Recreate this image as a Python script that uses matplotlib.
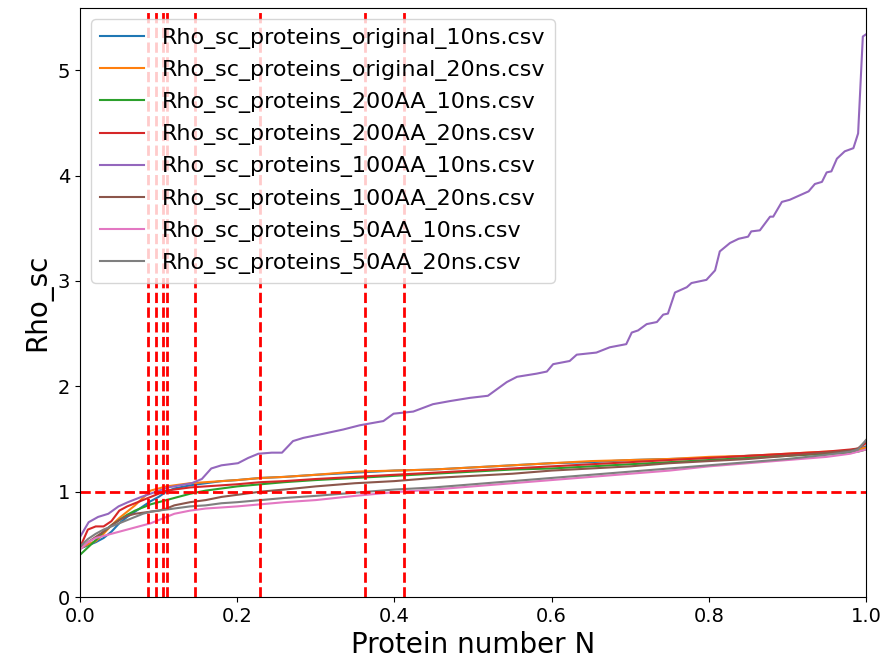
import matplotlib
matplotlib.use("Agg")
import matplotlib.pyplot as plt

# Nomes dos arquivos (legenda)
labels = [
    "Rho_sc_proteins_original_10ns.csv",
    "Rho_sc_proteins_original_20ns.csv",
    "Rho_sc_proteins_200AA_10ns.csv",
    "Rho_sc_proteins_200AA_20ns.csv",
    "Rho_sc_proteins_100AA_10ns.csv",
    "Rho_sc_proteins_100AA_20ns.csv",
    "Rho_sc_proteins_50AA_10ns.csv",
    "Rho_sc_proteins_50AA_20ns.csv",
]

# Eixo x comum (fração de proteínas)
x_grid = [0.0, 0.01, 0.02, 0.03, 0.04, 0.05, 0.06, 0.07, 0.08, 0.09, 0.1, 0.11,
          0.12, 0.14, 0.16, 0.18, 0.2, 0.23, 0.26, 0.3, 0.35, 0.4, 0.45, 0.5,
          0.55, 0.6, 0.65, 0.7, 0.75, 0.8, 0.85, 0.9, 0.95, 0.98, 0.99, 1.0]

orig_10 = [0.46, 0.49, 0.52, 0.56, 0.62, 0.70, 0.76, 0.81, 0.86, 0.91, 0.95, 1.00,
           1.03, 1.06, 1.08, 1.10, 1.11, 1.13, 1.14, 1.16, 1.18, 1.20, 1.21, 1.23,
           1.25, 1.27, 1.28, 1.30, 1.31, 1.32, 1.34, 1.35, 1.37, 1.39, 1.40, 1.43]
orig_20 = [0.46, 0.50, 0.53, 0.60, 0.68, 0.75, 0.81, 0.87, 0.94, 1.01, 1.03, 1.05,
           1.06, 1.08, 1.09, 1.10, 1.11, 1.13, 1.14, 1.16, 1.19, 1.20, 1.21, 1.23,
           1.25, 1.27, 1.29, 1.30, 1.31, 1.33, 1.34, 1.36, 1.38, 1.39, 1.40, 1.42]
aa200_10 = [0.40, 0.47, 0.54, 0.62, 0.68, 0.73, 0.78, 0.82, 0.85, 0.88, 0.90, 0.92,
            0.94, 0.98, 1.01, 1.03, 1.05, 1.07, 1.09, 1.11, 1.13, 1.15, 1.17, 1.19,
            1.21, 1.22, 1.24, 1.26, 1.28, 1.30, 1.32, 1.34, 1.36, 1.37, 1.38, 1.40]
aa200_20 = [0.47, 0.64, 0.67, 0.67, 0.72, 0.82, 0.86, 0.89, 0.92, 0.95, 0.98, 1.01,
            1.02, 1.04, 1.05, 1.06, 1.07, 1.09, 1.10, 1.12, 1.14, 1.16, 1.18, 1.20,
            1.22, 1.24, 1.26, 1.28, 1.30, 1.32, 1.34, 1.36, 1.38, 1.40, 1.41, 1.46]
aa100_20 = [0.46, 0.52, 0.57, 0.62, 0.68, 0.73, 0.77, 0.79, 0.80, 0.81, 0.82, 0.84,
            0.87, 0.90, 0.92, 0.95, 0.97, 1.00, 1.02, 1.05, 1.08, 1.10, 1.13, 1.15,
            1.17, 1.20, 1.22, 1.24, 1.27, 1.29, 1.31, 1.34, 1.37, 1.39, 1.41, 1.48]
aa50_10 = [0.45, 0.52, 0.56, 0.58, 0.60, 0.62, 0.64, 0.66, 0.68, 0.70, 0.73, 0.76,
           0.79, 0.82, 0.84, 0.85, 0.86, 0.88, 0.90, 0.92, 0.96, 0.995, 1.02, 1.05,
           1.08, 1.11, 1.14, 1.17, 1.20, 1.24, 1.27, 1.30, 1.33, 1.36, 1.38, 1.40]
aa50_20 = [0.48, 0.55, 0.60, 0.64, 0.67, 0.70, 0.73, 0.76, 0.79, 0.81, 0.82, 0.83,
           0.84, 0.86, 0.87, 0.89, 0.90, 0.92, 0.94, 0.96, 0.99, 1.02, 1.04, 1.07,
           1.10, 1.13, 1.16, 1.19, 1.22, 1.25, 1.28, 1.31, 1.35, 1.38, 1.40, 1.49]

# 100AA_10ns tem comportamento bem diferente, com pontos próprios
x_100_10 = [0.0, 0.011, 0.023, 0.036, 0.049, 0.061, 0.078, 0.097, 0.112, 0.142,
            0.155, 0.167, 0.180, 0.201, 0.214, 0.227, 0.244, 0.257, 0.271, 0.284,
            0.310, 0.335, 0.356, 0.386, 0.399, 0.424, 0.449, 0.471, 0.496, 0.519,
            0.543, 0.556, 0.581, 0.594, 0.602, 0.623, 0.632, 0.657, 0.674, 0.695,
            0.702, 0.710, 0.721, 0.734, 0.742, 0.748, 0.757, 0.772, 0.778, 0.797,
            0.808, 0.814, 0.827, 0.838, 0.850, 0.854, 0.865, 0.878, 0.882, 0.893,
            0.903, 0.927, 0.935, 0.944, 0.950, 0.956, 0.963, 0.973, 0.984, 0.990,
            0.996, 1.0]
aa100_10 = [0.57, 0.71, 0.76, 0.79, 0.86, 0.90, 0.95, 1.00, 1.04, 1.08,
            1.12, 1.22, 1.25, 1.27, 1.32, 1.36, 1.37, 1.37, 1.48, 1.51,
            1.55, 1.59, 1.63, 1.67, 1.74, 1.76, 1.83, 1.86, 1.89, 1.91,
            2.04, 2.09, 2.12, 2.14, 2.21, 2.24, 2.30, 2.32, 2.37, 2.40,
            2.51, 2.53, 2.59, 2.61, 2.68, 2.69, 2.89, 2.94, 2.98, 3.01,
            3.10, 3.28, 3.36, 3.40, 3.42, 3.47, 3.48, 3.61, 3.61, 3.75,
            3.77, 3.85, 3.92, 3.94, 4.03, 4.04, 4.16, 4.23, 4.26, 4.40,
            5.32, 5.34]

# Pontos onde cada curva cruza Rho_sc = 1
cruzamentos = [0.087, 0.097, 0.105, 0.111, 0.146, 0.229, 0.362, 0.412]

series = [
    (x_grid, orig_10),
    (x_grid, orig_20),
    (x_grid, aa200_10),
    (x_grid, aa200_20),
    (x_100_10, aa100_10),
    (x_grid, aa100_20),
    (x_grid, aa50_10),
    (x_grid, aa50_20),
]

fig = plt.figure(figsize=(8.85, 6.69), dpi=100)
ax = fig.add_subplot(111)
fig.subplots_adjust(left=0.0904, right=0.9785, bottom=0.1076, top=0.988)

for (xs, ys), lab in zip(series, labels):
    ax.plot(xs, ys, label=lab)

for xc in cruzamentos:
    ax.axvline(xc, color='r', linestyle='--', linewidth=2)
ax.axhline(1, color='r', linestyle='--', linewidth=2)

ax.set_xlim(0, 1)
ax.set_ylim(0, 5.59)
ax.set_xlabel('Protein number N', fontsize=20)
ax.set_ylabel('Rho_sc', fontsize=20)
ax.tick_params(labelsize=14)
ax.legend(loc='upper left', fontsize=16)

fig.savefig('out.png', dpi=100)
